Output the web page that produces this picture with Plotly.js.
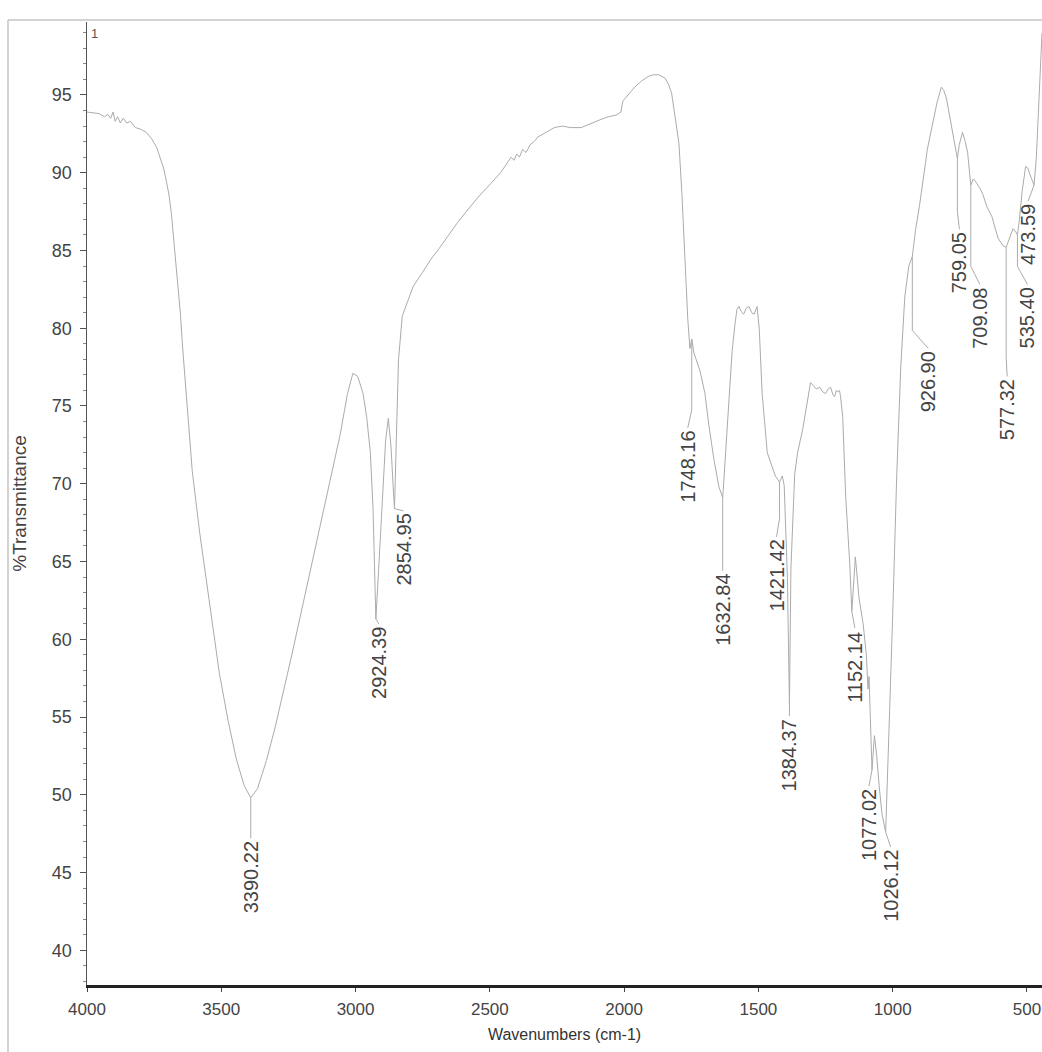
<!DOCTYPE html>
<html>
<head>
<meta charset="utf-8">
<script src="https://cdn.plot.ly/plotly-3.0.1.min.js"></script>
<style>
  html, body { margin: 0; padding: 0; background: #ffffff; }
  #chart { width: 1042px; height: 1052px; }
</style>
</head>
<body>
<div id="chart"></div>
<script>
// ---------------- DATA ----------------
const wavenumbers = [
  4000, 3975, 3955, 3935, 3922, 3912, 3903, 3895, 3886, 3876,
  3865, 3852, 3838, 3820, 3800, 3780, 3760, 3740, 3728, 3715,
  3705, 3695, 3686, 3677, 3668, 3660, 3652, 3645, 3630, 3608,
  3580, 3555, 3530, 3507, 3475, 3444, 3415, 3390.22, 3365, 3332,
  3300, 3272, 3240, 3208, 3170, 3133, 3095, 3058, 3030, 3010,
  2992, 2972, 2958, 2945, 2935, 2928, 2924.39, 2915, 2900, 2888,
  2878, 2868, 2860, 2854.95, 2848, 2840, 2826, 2800, 2785, 2750,
  2721, 2690, 2658, 2620, 2583, 2540, 2497, 2460, 2440, 2421,
  2410, 2400, 2390, 2378, 2365, 2350, 2335, 2321, 2290, 2260,
  2230, 2200, 2160, 2120, 2090, 2059, 2030, 2012, 2005, 1985,
  1961, 1935, 1909, 1890, 1872, 1849, 1835, 1823, 1810, 1796,
  1785, 1774, 1763, 1755, 1748.16, 1740, 1728, 1718, 1699, 1684,
  1665, 1647, 1632.84, 1622, 1609, 1598, 1587, 1580, 1572, 1565,
  1555, 1545, 1535, 1525, 1516, 1510, 1505, 1497, 1486, 1467,
  1456, 1437, 1421.42, 1411, 1404, 1392, 1384.37, 1379, 1365, 1354,
  1335, 1317, 1306, 1295, 1285, 1272, 1260, 1250, 1240, 1231,
  1222, 1216, 1210, 1205, 1198, 1194, 1186, 1175, 1160, 1152.14,
  1145, 1139, 1125, 1110, 1098, 1092, 1088, 1082, 1077.02, 1068,
  1060, 1050, 1040, 1026.12, 1015, 1000, 985, 970, 955, 940,
  926.90, 915, 900, 889, 878, 871, 862, 852, 835, 819,
  810, 800, 790, 782, 770, 759.05, 752, 740, 730, 721,
  709.08, 700, 690, 675, 664, 649, 631, 608, 589, 577.32,
  565, 552, 542, 535.40, 528, 518, 505, 497, 485, 473.59,
  465, 455, 444
];
const transmittance = [
  93.9, 93.85, 93.8, 93.6, 93.75, 93.5, 93.9, 93.3, 93.6, 93.2,
  93.5, 93.2, 93.3, 92.9, 92.8, 92.6, 92.2, 91.6, 90.9, 90.3,
  89.5, 88.6, 87.4, 85.8, 84.0, 82.5, 80.9, 79.0, 75.5, 70.8,
  66.8, 63.6, 60.4, 57.8, 54.8, 52.3, 50.6, 49.8, 50.4, 52.2,
  54.3, 56.5, 58.8, 61.3, 64.2, 67.2, 70.2, 73.1, 75.8, 77.1,
  76.9, 75.8, 74.2, 72.0, 68.4, 64.0, 61.3, 64.2, 69.5, 72.8,
  74.2, 72.4, 69.8, 68.4, 73.0, 78.0, 80.8, 82.0, 82.7, 83.6,
  84.4, 85.1, 85.9, 86.8, 87.6, 88.5, 89.3, 90.0, 90.5, 91.0,
  90.8, 91.2, 91.0, 91.5, 91.3, 91.8, 92.0, 92.3, 92.6, 92.9,
  93.0, 92.9, 92.9, 93.2, 93.4, 93.6, 93.7, 93.9, 94.6, 95.0,
  95.5, 95.9, 96.2, 96.3, 96.3, 96.1, 95.7, 95.1, 93.7, 91.9,
  88.7, 84.4, 80.6, 78.7, 79.3, 78.4, 77.8, 77.3, 75.8, 73.7,
  71.5, 69.8, 69.1, 72.2, 75.8, 78.5, 80.3, 81.2, 81.4, 81.1,
  80.9, 81.3, 81.4, 81.0, 80.9, 81.2, 81.4, 80.0, 75.8, 72.0,
  71.4, 70.5, 70.1, 70.5, 69.9, 64.0, 55.8, 64.5, 70.6, 72.0,
  73.5, 75.4, 76.5, 76.3, 76.1, 76.2, 75.9, 75.8, 76.1, 76.2,
  75.7, 75.6, 76.0, 75.9, 76.0, 75.6, 74.3, 69.2, 64.9, 61.8,
  63.6, 65.3, 62.6, 61.0, 59.0, 56.8, 57.6, 53.6, 51.6, 53.8,
  52.6, 50.5, 48.8, 47.6, 53.0, 61.5, 70.5, 77.5, 82.0, 84.0,
  84.6, 86.3, 87.9, 89.1, 90.6, 91.5, 92.2, 93.0, 94.5, 95.5,
  95.3, 94.8, 93.8, 93.0, 91.8, 90.9, 91.8, 92.6, 92.0, 91.3,
  89.2, 89.6, 89.4, 89.0, 88.6, 87.8, 87.2, 85.8, 85.3, 85.2,
  85.8, 86.4, 86.2, 86.0, 87.0, 88.8, 90.4, 90.3, 89.7, 89.2,
  91.0, 94.6, 99.0
];

// picked peaks (band positions and %T at the band)
const peakWn = [3390.22, 2924.39, 2854.95, 1748.16, 1632.84, 1421.42, 1384.37, 1152.14,
                1077.02, 1026.12, 926.90, 759.05, 709.08, 577.32, 535.40, 473.59];
const peakT  = [49.8, 61.3, 68.4, 79.3, 69.1, 70.1, 55.8, 61.8,
                51.6, 47.6, 84.6, 90.9, 89.2, 85.2, 86.0, 89.2];

const xTickVals = [4000, 3500, 3000, 2500, 2000, 1500, 1000, 500];
const yTickVals = [40, 45, 50, 55, 60, 65, 70, 75, 80, 85, 90, 95];

// ---------------- LAYOUT / PLACEMENT ----------------
const X_RANGE = [4000, 444];
const Y_RANGE = [37.77, 99.69];
const MARGIN = {l: 87, r: 0, t: 22, b: 67};
const W = 1042, H = 1052;
const plotW = W - MARGIN.l - MARGIN.r;
const plotH = H - MARGIN.t - MARGIN.b;
const uX = (X_RANGE[0] - X_RANGE[1]) / plotW;   // wavenumber units per px
const uY = (Y_RANGE[1] - Y_RANGE[0]) / plotH;   // %T units per px

// label text centre (in %T) and horizontal pixel shift of each label
const labelMidT   = [44.68, 58.47, 65.74, 71.08, 61.88, 64.07, 52.56, 58.22,
                     48.05, 44.13, 76.54, 84.2, 80.66, 74.74, 80.66, 86.0];
const labelShiftPx = [0, 3, 9, -4, 0, -3, 0, 3, -3, 5, 16, 2, 9, 1, 10, -6];
const LABEL_SIZE = 20;

const leadX = [], leadY = [], annotations = [];
peakWn.forEach((wn, i) => {
  const txt = wn.toFixed(2);
  const halfPx = ((txt.length - 1) * 0.556 * LABEL_SIZE + 0.278 * LABEL_SIZE) / 2;
  const topT = labelMidT[i] + (halfPx + 3) * uY;
  const kneeT = topT + 18 * uY;
  const labWn = wn - labelShiftPx[i] * uX;
  leadX.push(wn); leadY.push(peakT[i]);
  if (peakT[i] > kneeT) { leadX.push(wn); leadY.push(kneeT); }
  leadX.push(labWn); leadY.push(topT);
  leadX.push(null); leadY.push(null);
  annotations.push({
    x: wn, y: labelMidT[i], xref: 'x', yref: 'y', xshift: labelShiftPx[i],
    text: txt, textangle: -90, showarrow: false,
    xanchor: 'center', yanchor: 'middle', borderpad: 0,
    font: {family: 'Liberation Sans, Arial, sans-serif', size: LABEL_SIZE, color: '#444444'}
  });
});

annotations.push({
  xref: 'paper', yref: 'paper', x: 0, y: 1, xanchor: 'left', yanchor: 'top',
  xshift: 2, yshift: -2, text: '1', showarrow: false,
  font: {family: 'Liberation Sans, Arial, sans-serif', size: 13, color: '#555555'}
});

const pxToPaperX = px => (px - MARGIN.l) / plotW;
const pxToPaperY = py => (H - MARGIN.b - py) / plotH;

const shapes = [
  {type: 'line', xref: 'paper', yref: 'paper',
   x0: pxToPaperX(8), x1: 1, y0: pxToPaperY(20), y1: pxToPaperY(20),
   line: {color: '#c4c4c4', width: 1.5}},
  {type: 'line', xref: 'paper', yref: 'paper',
   x0: pxToPaperX(8), x1: pxToPaperX(8), y0: pxToPaperY(20), y1: pxToPaperY(1052),
   line: {color: '#c4c4c4', width: 1.5}}
];

const traces = [
  {x: wavenumbers, y: transmittance, type: 'scatter', mode: 'lines',
   line: {color: '#ababab', width: 1}, hoverinfo: 'skip'},
  {x: leadX, y: leadY, type: 'scatter', mode: 'lines',
   line: {color: '#ababab', width: 1}, hoverinfo: 'skip', connectgaps: false}
];

const layout = {
  width: W, height: H,
  margin: {l: MARGIN.l, r: MARGIN.r, t: MARGIN.t, b: MARGIN.b, pad: 0},
  paper_bgcolor: '#ffffff', plot_bgcolor: '#ffffff',
  showlegend: false,
  font: {family: 'Liberation Sans, Arial, sans-serif', color: '#3a3a3a'},
  xaxis: {
    range: X_RANGE, tickvals: xTickVals, ticks: 'outside', ticklen: 4,
    tickcolor: '#444', tickwidth: 1,
    showline: true, linecolor: '#222', linewidth: 2.5,
    showgrid: false, zeroline: false, ticklabelstandoff: 3,
    tickfont: {size: 17, color: '#444'},
    title: {text: 'Wavenumbers (cm-1)', font: {size: 16, color: '#333'}, standoff: 11}
  },
  yaxis: {
    range: Y_RANGE, tickvals: yTickVals, ticks: 'outside', ticklen: 6,
    tickcolor: '#555', tickwidth: 1,
    minor: {dtick: 1, tick0: 40, ticks: 'outside', ticklen: 3, tickcolor: '#888'},
    showline: true, linecolor: '#555', linewidth: 1.5,
    showgrid: false, zeroline: false, ticklabelstandoff: 4,
    tickfont: {size: 18, color: '#444'},
    title: {text: '%Transmittance', font: {size: 19, color: '#444'}, standoff: 20}
  },
  annotations: annotations,
  shapes: shapes
};

Plotly.newPlot('chart', traces, layout, {displayModeBar: false, staticPlot: true});
</script>
</body>
</html>
